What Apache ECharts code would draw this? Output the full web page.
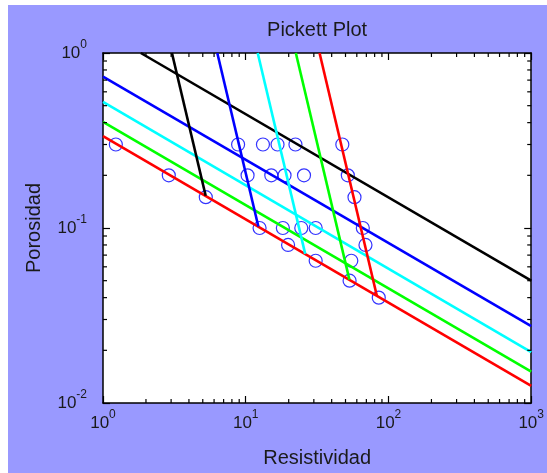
<!DOCTYPE html>
<html>
<head>
<meta charset="utf-8">
<script src="https://cdn.jsdelivr.net/npm/echarts@6/dist/echarts.min.js"></script>
<style>
  html, body { margin: 0; padding: 0; background: #ffffff; }
  #chart { position: absolute; left: 8px; top: 5px; width: 539px; height: 468px; }
</style>
</head>
<body>
<div id="chart"></div>
<script>
// Resistividad (ohm-m) vs. porosidad, log-log Pickett plot

// Saturation lines (two end points each)
const negroRt = [1.84, 1000];
const negroPhi = [1.0, 0.050];
const azulRt = [1, 1000];
const azulPhi = [0.733, 0.0275];
const cianRt = [1, 1000];
const cianPhi = [0.525, 0.0195];
const verdeRt = [1, 1000];
const verdePhi = [0.404, 0.0151];
const rojoRt = [1, 1000];
const rojoPhi = [0.335, 0.01253];

// Steep lines, from the top of the plot down to the red line
const negroBRt = [3.04, 5.24];
const negroBPhi = [1.0, 0.153];
const azulBRt = [6.32, 12.26];
const azulBPhi = [1.0, 0.102];
const cianBRt = [12.13, 26.1];
const cianBPhi = [1.0, 0.0711];
const verdeBRt = [22.44, 53.25];
const verdeBPhi = [1.0, 0.0507];
const rojoBRt = [32.9, 82.9];
const rojoBPhi = [1.0, 0.041];

// Measured points
const puntosRt = [1.23, 2.89, 5.25, 8.84, 13.2, 16.7, 22.3, 10.3, 15.1, 18.7, 25.6,
                  12.5, 18.2, 24.5, 30.9, 19.8, 30.9, 47.5, 51.9, 57.8, 66.1, 69.0,
                  54.9, 53.4, 85.5];
const puntosPhi = [0.3, 0.2, 0.15, 0.3, 0.3, 0.3, 0.3, 0.2, 0.2, 0.2, 0.2,
                   0.1, 0.1, 0.1, 0.1, 0.08, 0.065, 0.3, 0.2, 0.15, 0.1, 0.08,
                   0.065, 0.05, 0.04];

// Axis ranges and minor tick values
const xMin = 1, xMax = 1000;
const yMin = 0.01, yMax = 1;
const xMinorTicks = [2, 3, 4, 5, 6, 7, 8, 9, 20, 30, 40, 50, 60, 70, 80, 90,
                     200, 300, 400, 500, 600, 700, 800, 900];
const yMinorTicks = [0.02, 0.03, 0.04, 0.05, 0.06, 0.07, 0.08, 0.09,
                     0.2, 0.3, 0.4, 0.5, 0.6, 0.7, 0.8, 0.9];

const FONT = '"Liberation Sans", Arial, Helvetica, sans-serif';
const TXT = '#1a1a1a';
const MINOR_LEN = 4;

function zip(a, b) { return a.map((v, i) => [v, b[i]]); }

function expLabel(v) {
  const e = Math.round(Math.log10(v));
  return '{b|10}{s|' + e + '}';
}
const richExp = {
  b: { fontSize: 17, lineHeight: 28, fontFamily: FONT, color: TXT },
  s: { fontSize: 12, lineHeight: 10, verticalAlign: 'top', fontFamily: FONT, color: TXT }
};
const nameStyle = { fontSize: 20, fontFamily: FONT, color: TXT };

function baseAxis(min, max, position) {
  return {
    type: 'log', logBase: 10, min: min, max: max, interval: 1,
    position: position,
    axisLine: { show: true, onZero: false, lineStyle: { color: '#000', width: 1.5 } },
    axisTick: { show: true, inside: true, length: 7, lineStyle: { color: '#000', width: 1.2 } },
    axisLabel: { show: false },
    splitLine: { show: false },
    minorTick: { show: false }
  };
}

const xBottom = baseAxis(xMin, xMax, 'bottom');
xBottom.axisLabel = { show: true, formatter: expLabel, rich: richExp, margin: 6 };
xBottom.name = 'Resistividad';
xBottom.nameLocation = 'middle';
xBottom.nameGap = 45;
xBottom.nameTextStyle = nameStyle;

const xTop = baseAxis(xMin, xMax, 'top');
xTop.name = 'Pickett Plot';
xTop.nameLocation = 'middle';
xTop.nameGap = 13;
xTop.nameTextStyle = nameStyle;

const yLeft = baseAxis(yMin, yMax, 'left');
yLeft.axisLabel = { show: true, formatter: expLabel, rich: richExp, margin: 16 };
yLeft.name = 'Porosidad';
yLeft.nameLocation = 'middle';
yLeft.nameGap = 59;
yLeft.nameTextStyle = nameStyle;

const yRight = baseAxis(yMin, yMax, 'right');

function lineSeries(rt, phi, color) {
  return {
    type: 'line', xAxisIndex: 0, yAxisIndex: 0,
    data: zip(rt, phi), showSymbol: false, symbol: 'none',
    lineStyle: { color: color, width: 2.6 }, clip: true,
    silent: true
  };
}

// Minor ticks on all four sides of the box, placed through the log scales
const tickStyle = { stroke: '#000', lineWidth: 1.2 };
function minorTickSeries(values, vertical) {
  return {
    type: 'custom', xAxisIndex: 0, yAxisIndex: 0, silent: true, z: 5,
    data: values.map(v => (vertical ? [v, yMin] : [xMin, v])),
    renderItem: function (params, api) {
      if (vertical) {
        const v = api.value(0);
        const b = api.coord([v, yMin]);
        const t = api.coord([v, yMax]);
        return { type: 'group', children: [
          { type: 'line', shape: { x1: b[0], y1: b[1], x2: b[0], y2: b[1] - MINOR_LEN }, style: tickStyle },
          { type: 'line', shape: { x1: t[0], y1: t[1], x2: t[0], y2: t[1] + MINOR_LEN }, style: tickStyle }
        ] };
      }
      const v = api.value(1);
      const l = api.coord([xMin, v]);
      const r = api.coord([xMax, v]);
      return { type: 'group', children: [
        { type: 'line', shape: { x1: l[0], y1: l[1], x2: l[0] + MINOR_LEN, y2: l[1] }, style: tickStyle },
        { type: 'line', shape: { x1: r[0], y1: r[1], x2: r[0] - MINOR_LEN, y2: r[1] }, style: tickStyle }
      ] };
    }
  };
}

const chart = echarts.init(document.getElementById('chart'), null, { renderer: 'canvas' });
chart.setOption({
  backgroundColor: '#9999ff',
  animation: false,
  grid: { left: 95, top: 48, right: 15, bottom: 68, containLabel: false,
          show: true, backgroundColor: '#ffffff', borderWidth: 0 },
  xAxis: [xBottom, xTop],
  yAxis: [yLeft, yRight],
  series: [
    lineSeries(negroRt, negroPhi, '#000000'),
    lineSeries(azulRt, azulPhi, '#0000ff'),
    lineSeries(cianRt, cianPhi, '#00ffff'),
    lineSeries(verdeRt, verdePhi, '#00ff00'),
    lineSeries(rojoRt, rojoPhi, '#ff0000'),
    lineSeries(negroBRt, negroBPhi, '#000000'),
    lineSeries(azulBRt, azulBPhi, '#0000ff'),
    lineSeries(cianBRt, cianBPhi, '#00ffff'),
    lineSeries(verdeBRt, verdeBPhi, '#00ff00'),
    lineSeries(rojoBRt, rojoBPhi, '#ff0000'),
    {
      type: 'scatter', xAxisIndex: 0, yAxisIndex: 0,
      data: zip(puntosRt, puntosPhi),
      symbol: 'circle', symbolSize: 13,
      itemStyle: { color: 'rgba(0,0,0,0)', borderColor: '#0000ff', borderWidth: 1.2 },
      silent: true
    },
    minorTickSeries(xMinorTicks, true),
    minorTickSeries(yMinorTicks, false)
  ]
});
</script>
</body>
</html>
